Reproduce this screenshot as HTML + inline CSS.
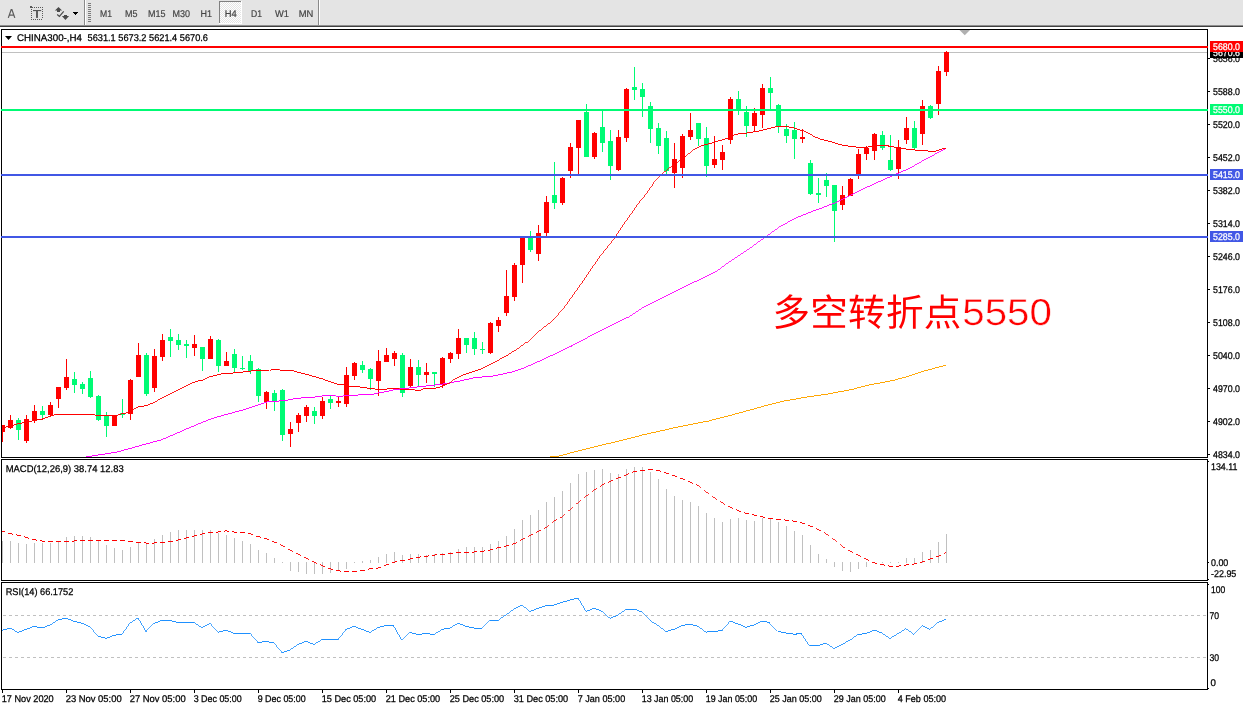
<!DOCTYPE html><html><head><meta charset="utf-8"><title>CHINA300 H4</title>
<style>html,body{margin:0;padding:0;background:#fff;}body{width:1243px;height:708px;overflow:hidden;}svg{display:block;position:absolute;left:0;top:0;will-change:transform;text-rendering:geometricPrecision;}text{font-family:"Liberation Sans",sans-serif;}</style></head><body>
<svg width="1243" height="708" viewBox="0 0 1243 708">
<defs><clipPath id="cm"><rect x="1" y="30" width="1207" height="427"/></clipPath><pattern id="dith" width="2" height="2" patternUnits="userSpaceOnUse"><rect width="2" height="2" fill="#fff"/><rect width="1" height="1" fill="#e4e4e4"/><rect x="1" y="1" width="1" height="1" fill="#e4e4e4"/></pattern></defs>
<rect x="0" y="0" width="1243" height="708" fill="#fff"/>
<g shape-rendering="crispEdges">
<rect x="0" y="0" width="1243" height="25" fill="#e4e4e4"/>
<rect x="0" y="25" width="1243" height="1" fill="#8f8f8f"/>
<rect x="0" y="26" width="1243" height="1" fill="#404040"/>
<rect x="84" y="0" width="1" height="25" fill="#8a8a8a"/><rect x="85" y="0" width="1" height="25" fill="#fff"/>
<rect x="318" y="0" width="1" height="25" fill="#8a8a8a"/><rect x="319" y="0" width="1" height="25" fill="#fff"/>
<rect x="88" y="3" width="3" height="1" fill="#7a7a7a"/>
<rect x="88" y="5" width="3" height="1" fill="#7a7a7a"/>
<rect x="88" y="7" width="3" height="1" fill="#7a7a7a"/>
<rect x="88" y="9" width="3" height="1" fill="#7a7a7a"/>
<rect x="88" y="11" width="3" height="1" fill="#7a7a7a"/>
<rect x="88" y="13" width="3" height="1" fill="#7a7a7a"/>
<rect x="88" y="15" width="3" height="1" fill="#7a7a7a"/>
<rect x="88" y="17" width="3" height="1" fill="#7a7a7a"/>
<rect x="88" y="19" width="3" height="1" fill="#7a7a7a"/>
<rect x="88" y="21" width="3" height="1" fill="#7a7a7a"/>
<rect x="219" y="1" width="23" height="23" fill="url(#dith)"/>
<rect x="219" y="1" width="22" height="1" fill="#808080"/><rect x="219" y="1" width="1" height="22" fill="#808080"/>
<rect x="219" y="23" width="23" height="1" fill="#fff"/><rect x="241" y="1" width="1" height="23" fill="#fff"/>
</g>
<text x="100" y="17" font-size="9.8" fill="#444" stroke="#444" stroke-width="0.2" textLength="12" lengthAdjust="spacingAndGlyphs">M1</text>
<text x="125" y="17" font-size="9.8" fill="#444" stroke="#444" stroke-width="0.2" textLength="12.5" lengthAdjust="spacingAndGlyphs">M5</text>
<text x="148" y="17" font-size="9.8" fill="#444" stroke="#444" stroke-width="0.2" textLength="17.5" lengthAdjust="spacingAndGlyphs">M15</text>
<text x="172.5" y="17" font-size="9.8" fill="#444" stroke="#444" stroke-width="0.2" textLength="17.5" lengthAdjust="spacingAndGlyphs">M30</text>
<text x="200.5" y="17" font-size="9.8" fill="#444" stroke="#444" stroke-width="0.2" textLength="11.5" lengthAdjust="spacingAndGlyphs">H1</text>
<text x="224.7" y="17" font-size="9.8" fill="#444" stroke="#444" stroke-width="0.2" textLength="12" lengthAdjust="spacingAndGlyphs">H4</text>
<text x="251" y="17" font-size="9.8" fill="#444" stroke="#444" stroke-width="0.2" textLength="11" lengthAdjust="spacingAndGlyphs">D1</text>
<text x="275" y="17" font-size="9.8" fill="#444" stroke="#444" stroke-width="0.2" textLength="14" lengthAdjust="spacingAndGlyphs">W1</text>
<text x="298.7" y="17" font-size="9.8" fill="#444" stroke="#444" stroke-width="0.2" textLength="14.6" lengthAdjust="spacingAndGlyphs">MN</text>
<path d="M8.3 17.9 L11.2 9.6 L11.9 9.6 L14.800 17.9 M9.500 15 L13.600 15" fill="none" stroke="#5c5c5c" stroke-width="1.25" stroke-linejoin="miter"/>
<g shape-rendering="crispEdges" fill="#5a5a5a">
<rect x="30" y="6" width="2" height="2"/><rect x="32" y="7" width="1" height="1"/>
<rect x="34" y="7" width="1" height="1"/>
<rect x="36" y="7" width="1" height="1"/>
<rect x="38" y="7" width="1" height="1"/>
<rect x="40" y="7" width="1" height="1"/>
<rect x="42" y="7" width="1" height="1"/>
<rect x="31" y="19" width="1" height="1"/>
<rect x="33" y="19" width="1" height="1"/>
<rect x="35" y="19" width="1" height="1"/>
<rect x="37" y="19" width="1" height="1"/>
<rect x="39" y="19" width="1" height="1"/>
<rect x="41" y="19" width="1" height="1"/>
<rect x="31" y="9" width="1" height="1"/><rect x="42" y="9" width="1" height="1"/>
<rect x="31" y="11" width="1" height="1"/><rect x="42" y="11" width="1" height="1"/>
<rect x="31" y="13" width="1" height="1"/><rect x="42" y="13" width="1" height="1"/>
<rect x="31" y="15" width="1" height="1"/><rect x="42" y="15" width="1" height="1"/>
<rect x="31" y="17" width="1" height="1"/><rect x="42" y="17" width="1" height="1"/>
</g>
<rect x="33" y="10" width="8.2" height="1.1" fill="#555"/><rect x="36" y="11" width="2" height="6.900" fill="#5e5e5e"/>
<g fill="#4a4a4a"><path d="M58.5 6.900 L62.100 10.600 L60 10.600 L60 12 L57 12 L57 10.600 L54.900 10.600 Z"/><path d="M65.450 20 L69.100 16.100 L67 16.100 L67 15.100 L64 15.100 L64 16.100 L61.900 16.100 Z"/><path d="M57.200 14.500 L59.400 16.500 L63.700 11.300" fill="none" stroke="#4a4a4a" stroke-width="1.2"/></g>
<g shape-rendering="crispEdges" fill="#000"><rect x="73" y="12" width="5" height="1"/><rect x="74" y="13" width="3" height="1"/><rect x="75" y="14" width="1" height="1"/></g>
<g shape-rendering="crispEdges" fill="#000">
<rect x="1" y="29" width="1" height="429"/><rect x="1207" y="29" width="1" height="429"/>
<rect x="1" y="459" width="1" height="122"/><rect x="1207" y="459" width="1" height="122"/>
<rect x="1" y="582" width="1" height="108"/><rect x="1207" y="582" width="1" height="108"/>
<rect x="1" y="29" width="1207" height="1"/>
<rect x="1" y="457" width="1207" height="1"/>
<rect x="1" y="459" width="1207" height="1"/>
<rect x="1" y="580" width="1207" height="1"/>
<rect x="1" y="582" width="1207" height="1"/>
<rect x="1" y="689" width="1207" height="1"/>
</g>
<g clip-path="url(#cm)">
<g shape-rendering="crispEdges">
<rect x="2" y="52" width="1205" height="1" fill="#c0c0c0"/>
<rect x="2" y="425" width="1" height="17" fill="#ff0000"/>
<rect x="0" y="425" width="5" height="7" fill="#ff0000"/>
<rect x="10" y="415" width="1" height="14" fill="#ff0000"/>
<rect x="8" y="420" width="5" height="8" fill="#ff0000"/>
<rect x="18" y="418" width="1" height="22" fill="#00fb74"/>
<rect x="16" y="420" width="5" height="10" fill="#00fb74"/>
<rect x="26" y="415" width="1" height="28" fill="#ff0000"/>
<rect x="24" y="419" width="5" height="22" fill="#ff0000"/>
<rect x="34" y="405" width="1" height="18" fill="#ff0000"/>
<rect x="32" y="411" width="5" height="9" fill="#ff0000"/>
<rect x="42" y="406" width="1" height="12" fill="#00fb74"/>
<rect x="40" y="411" width="5" height="4" fill="#00fb74"/>
<rect x="50" y="402" width="1" height="14" fill="#ff0000"/>
<rect x="48" y="405" width="5" height="10" fill="#ff0000"/>
<rect x="58" y="387" width="1" height="21" fill="#ff0000"/>
<rect x="56" y="387" width="5" height="12" fill="#ff0000"/>
<rect x="66" y="359" width="1" height="31" fill="#ff0000"/>
<rect x="64" y="377" width="5" height="11" fill="#ff0000"/>
<rect x="74" y="372" width="1" height="21" fill="#00fb74"/>
<rect x="72" y="379" width="5" height="6" fill="#00fb74"/>
<rect x="82" y="382" width="1" height="12" fill="#00fb74"/>
<rect x="80" y="384" width="5" height="5" fill="#00fb74"/>
<rect x="90" y="371" width="1" height="27" fill="#00fb74"/>
<rect x="88" y="378" width="5" height="19" fill="#00fb74"/>
<rect x="98" y="395" width="1" height="26" fill="#00fb74"/>
<rect x="96" y="396" width="5" height="24" fill="#00fb74"/>
<rect x="106" y="412" width="1" height="25" fill="#00fb74"/>
<rect x="104" y="416" width="5" height="10" fill="#00fb74"/>
<rect x="114" y="416" width="1" height="10" fill="#ff0000"/>
<rect x="112" y="416" width="5" height="10" fill="#ff0000"/>
<rect x="122" y="399" width="1" height="19" fill="#00fb74"/>
<rect x="120" y="413" width="5" height="2" fill="#00fb74"/>
<rect x="130" y="379" width="1" height="41" fill="#ff0000"/>
<rect x="128" y="380" width="5" height="34" fill="#ff0000"/>
<rect x="138" y="343" width="1" height="34" fill="#ff0000"/>
<rect x="136" y="355" width="5" height="22" fill="#ff0000"/>
<rect x="146" y="353" width="1" height="43" fill="#00fb74"/>
<rect x="144" y="355" width="5" height="39" fill="#00fb74"/>
<rect x="154" y="349" width="1" height="43" fill="#ff0000"/>
<rect x="152" y="356" width="5" height="32" fill="#ff0000"/>
<rect x="162" y="334" width="1" height="27" fill="#ff0000"/>
<rect x="160" y="340" width="5" height="17" fill="#ff0000"/>
<rect x="170" y="329" width="1" height="28" fill="#00fb74"/>
<rect x="168" y="337" width="5" height="4" fill="#00fb74"/>
<rect x="178" y="334" width="1" height="16" fill="#00fb74"/>
<rect x="176" y="340" width="5" height="5" fill="#00fb74"/>
<rect x="186" y="340" width="1" height="18" fill="#00fb74"/>
<rect x="184" y="344" width="5" height="2" fill="#00fb74"/>
<rect x="194" y="335" width="1" height="21" fill="#ff0000"/>
<rect x="192" y="344" width="5" height="4" fill="#ff0000"/>
<rect x="202" y="347" width="1" height="24" fill="#00fb74"/>
<rect x="200" y="347" width="5" height="12" fill="#00fb74"/>
<rect x="210" y="336" width="1" height="23" fill="#ff0000"/>
<rect x="208" y="339" width="5" height="20" fill="#ff0000"/>
<rect x="218" y="339" width="1" height="33" fill="#00fb74"/>
<rect x="216" y="340" width="5" height="26" fill="#00fb74"/>
<rect x="226" y="352" width="1" height="14" fill="#ff0000"/>
<rect x="224" y="361" width="5" height="5" fill="#ff0000"/>
<rect x="234" y="349" width="1" height="24" fill="#00fb74"/>
<rect x="232" y="354" width="5" height="14" fill="#00fb74"/>
<rect x="242" y="356" width="1" height="14" fill="#00fb74"/>
<rect x="240" y="368" width="5" height="1" fill="#00fb74"/>
<rect x="250" y="355" width="1" height="19" fill="#00fb74"/>
<rect x="248" y="361" width="5" height="10" fill="#00fb74"/>
<rect x="258" y="368" width="1" height="34" fill="#00fb74"/>
<rect x="256" y="369" width="5" height="27" fill="#00fb74"/>
<rect x="266" y="391" width="1" height="18" fill="#ff0000"/>
<rect x="264" y="392" width="5" height="10" fill="#ff0000"/>
<rect x="274" y="390" width="1" height="21" fill="#00fb74"/>
<rect x="272" y="393" width="5" height="9" fill="#00fb74"/>
<rect x="282" y="389" width="1" height="52" fill="#00fb74"/>
<rect x="280" y="390" width="5" height="45" fill="#00fb74"/>
<rect x="290" y="422" width="1" height="25" fill="#ff0000"/>
<rect x="288" y="429" width="5" height="5" fill="#ff0000"/>
<rect x="298" y="413" width="1" height="19" fill="#ff0000"/>
<rect x="296" y="415" width="5" height="8" fill="#ff0000"/>
<rect x="306" y="405" width="1" height="17" fill="#ff0000"/>
<rect x="304" y="407" width="5" height="9" fill="#ff0000"/>
<rect x="314" y="407" width="1" height="17" fill="#00fb74"/>
<rect x="312" y="411" width="5" height="5" fill="#00fb74"/>
<rect x="322" y="397" width="1" height="22" fill="#ff0000"/>
<rect x="320" y="401" width="5" height="15" fill="#ff0000"/>
<rect x="330" y="396" width="1" height="13" fill="#00fb74"/>
<rect x="328" y="399" width="5" height="4" fill="#00fb74"/>
<rect x="338" y="397" width="1" height="10" fill="#ff0000"/>
<rect x="336" y="401" width="5" height="2" fill="#ff0000"/>
<rect x="346" y="367" width="1" height="40" fill="#ff0000"/>
<rect x="344" y="375" width="5" height="29" fill="#ff0000"/>
<rect x="354" y="362" width="1" height="18" fill="#ff0000"/>
<rect x="352" y="363" width="5" height="13" fill="#ff0000"/>
<rect x="362" y="361" width="1" height="12" fill="#00fb74"/>
<rect x="360" y="365" width="5" height="5" fill="#00fb74"/>
<rect x="370" y="368" width="1" height="22" fill="#00fb74"/>
<rect x="368" y="369" width="5" height="10" fill="#00fb74"/>
<rect x="378" y="350" width="1" height="46" fill="#ff0000"/>
<rect x="376" y="361" width="5" height="20" fill="#ff0000"/>
<rect x="386" y="348" width="1" height="14" fill="#ff0000"/>
<rect x="384" y="355" width="5" height="7" fill="#ff0000"/>
<rect x="394" y="351" width="1" height="15" fill="#ff0000"/>
<rect x="392" y="353" width="5" height="6" fill="#ff0000"/>
<rect x="402" y="353" width="1" height="44" fill="#00fb74"/>
<rect x="400" y="355" width="5" height="38" fill="#00fb74"/>
<rect x="410" y="359" width="1" height="29" fill="#ff0000"/>
<rect x="408" y="367" width="5" height="19" fill="#ff0000"/>
<rect x="418" y="360" width="1" height="27" fill="#00fb74"/>
<rect x="416" y="367" width="5" height="8" fill="#00fb74"/>
<rect x="426" y="363" width="1" height="20" fill="#ff0000"/>
<rect x="424" y="372" width="5" height="3" fill="#ff0000"/>
<rect x="434" y="372" width="1" height="15" fill="#00fb74"/>
<rect x="432" y="372" width="5" height="2" fill="#00fb74"/>
<rect x="442" y="357" width="1" height="31" fill="#ff0000"/>
<rect x="440" y="358" width="5" height="27" fill="#ff0000"/>
<rect x="450" y="352" width="1" height="11" fill="#ff0000"/>
<rect x="448" y="353" width="5" height="6" fill="#ff0000"/>
<rect x="458" y="329" width="1" height="30" fill="#ff0000"/>
<rect x="456" y="338" width="5" height="16" fill="#ff0000"/>
<rect x="466" y="338" width="1" height="15" fill="#00fb74"/>
<rect x="464" y="338" width="5" height="7" fill="#00fb74"/>
<rect x="474" y="332" width="1" height="23" fill="#00fb74"/>
<rect x="472" y="338" width="5" height="11" fill="#00fb74"/>
<rect x="482" y="342" width="1" height="12" fill="#00fb74"/>
<rect x="480" y="349" width="5" height="1" fill="#00fb74"/>
<rect x="490" y="322" width="1" height="32" fill="#ff0000"/>
<rect x="488" y="323" width="5" height="30" fill="#ff0000"/>
<rect x="498" y="317" width="1" height="15" fill="#ff0000"/>
<rect x="496" y="320" width="5" height="6" fill="#ff0000"/>
<rect x="506" y="270" width="1" height="46" fill="#ff0000"/>
<rect x="504" y="296" width="5" height="17" fill="#ff0000"/>
<rect x="514" y="263" width="1" height="38" fill="#ff0000"/>
<rect x="512" y="265" width="5" height="32" fill="#ff0000"/>
<rect x="522" y="236" width="1" height="47" fill="#ff0000"/>
<rect x="520" y="236" width="5" height="29" fill="#ff0000"/>
<rect x="530" y="231" width="1" height="21" fill="#00fb74"/>
<rect x="528" y="237" width="5" height="13" fill="#00fb74"/>
<rect x="538" y="225" width="1" height="36" fill="#ff0000"/>
<rect x="536" y="233" width="5" height="21" fill="#ff0000"/>
<rect x="546" y="196" width="1" height="40" fill="#ff0000"/>
<rect x="544" y="202" width="5" height="31" fill="#ff0000"/>
<rect x="554" y="162" width="1" height="47" fill="#00fb74"/>
<rect x="552" y="195" width="5" height="8" fill="#00fb74"/>
<rect x="562" y="177" width="1" height="28" fill="#ff0000"/>
<rect x="560" y="178" width="5" height="25" fill="#ff0000"/>
<rect x="570" y="143" width="1" height="35" fill="#ff0000"/>
<rect x="568" y="147" width="5" height="24" fill="#ff0000"/>
<rect x="578" y="120" width="1" height="54" fill="#ff0000"/>
<rect x="576" y="120" width="5" height="28" fill="#ff0000"/>
<rect x="586" y="104" width="1" height="53" fill="#00fb74"/>
<rect x="584" y="112" width="5" height="45" fill="#00fb74"/>
<rect x="594" y="132" width="1" height="27" fill="#ff0000"/>
<rect x="592" y="133" width="5" height="24" fill="#ff0000"/>
<rect x="602" y="111" width="1" height="41" fill="#00fb74"/>
<rect x="600" y="127" width="5" height="16" fill="#00fb74"/>
<rect x="610" y="130" width="1" height="50" fill="#00fb74"/>
<rect x="608" y="141" width="5" height="25" fill="#00fb74"/>
<rect x="618" y="130" width="1" height="41" fill="#ff0000"/>
<rect x="616" y="137" width="5" height="33" fill="#ff0000"/>
<rect x="626" y="88" width="1" height="54" fill="#ff0000"/>
<rect x="624" y="89" width="5" height="49" fill="#ff0000"/>
<rect x="634" y="67" width="1" height="33" fill="#00fb74"/>
<rect x="632" y="87" width="5" height="3" fill="#00fb74"/>
<rect x="642" y="83" width="1" height="34" fill="#00fb74"/>
<rect x="640" y="89" width="5" height="8" fill="#00fb74"/>
<rect x="650" y="102" width="1" height="41" fill="#00fb74"/>
<rect x="648" y="106" width="5" height="23" fill="#00fb74"/>
<rect x="658" y="123" width="1" height="31" fill="#00fb74"/>
<rect x="656" y="128" width="5" height="18" fill="#00fb74"/>
<rect x="666" y="131" width="1" height="43" fill="#00fb74"/>
<rect x="664" y="138" width="5" height="33" fill="#00fb74"/>
<rect x="674" y="143" width="1" height="45" fill="#ff0000"/>
<rect x="672" y="159" width="5" height="14" fill="#ff0000"/>
<rect x="682" y="134" width="1" height="44" fill="#ff0000"/>
<rect x="680" y="136" width="5" height="32" fill="#ff0000"/>
<rect x="690" y="113" width="1" height="27" fill="#ff0000"/>
<rect x="688" y="130" width="5" height="7" fill="#ff0000"/>
<rect x="698" y="123" width="1" height="23" fill="#00fb74"/>
<rect x="696" y="123" width="5" height="16" fill="#00fb74"/>
<rect x="706" y="127" width="1" height="50" fill="#00fb74"/>
<rect x="704" y="138" width="5" height="28" fill="#00fb74"/>
<rect x="714" y="136" width="1" height="32" fill="#ff0000"/>
<rect x="712" y="159" width="5" height="6" fill="#ff0000"/>
<rect x="722" y="145" width="1" height="25" fill="#ff0000"/>
<rect x="720" y="152" width="5" height="8" fill="#ff0000"/>
<rect x="730" y="97" width="1" height="47" fill="#ff0000"/>
<rect x="728" y="99" width="5" height="41" fill="#ff0000"/>
<rect x="738" y="91" width="1" height="24" fill="#00fb74"/>
<rect x="736" y="99" width="5" height="11" fill="#00fb74"/>
<rect x="746" y="106" width="1" height="31" fill="#00fb74"/>
<rect x="744" y="112" width="5" height="14" fill="#00fb74"/>
<rect x="754" y="108" width="1" height="23" fill="#ff0000"/>
<rect x="752" y="113" width="5" height="13" fill="#ff0000"/>
<rect x="762" y="84" width="1" height="44" fill="#ff0000"/>
<rect x="760" y="88" width="5" height="27" fill="#ff0000"/>
<rect x="770" y="77" width="1" height="32" fill="#00fb74"/>
<rect x="768" y="88" width="5" height="5" fill="#00fb74"/>
<rect x="778" y="104" width="1" height="29" fill="#00fb74"/>
<rect x="776" y="105" width="5" height="21" fill="#00fb74"/>
<rect x="786" y="124" width="1" height="19" fill="#00fb74"/>
<rect x="784" y="129" width="5" height="7" fill="#00fb74"/>
<rect x="794" y="122" width="1" height="37" fill="#00fb74"/>
<rect x="792" y="130" width="5" height="9" fill="#00fb74"/>
<rect x="802" y="129" width="1" height="14" fill="#ff0000"/>
<rect x="800" y="137" width="5" height="2" fill="#ff0000"/>
<rect x="810" y="160" width="1" height="35" fill="#00fb74"/>
<rect x="808" y="163" width="5" height="31" fill="#00fb74"/>
<rect x="818" y="178" width="1" height="25" fill="#00fb74"/>
<rect x="816" y="193" width="5" height="2" fill="#00fb74"/>
<rect x="826" y="173" width="1" height="24" fill="#00fb74"/>
<rect x="824" y="180" width="5" height="6" fill="#00fb74"/>
<rect x="834" y="185" width="1" height="57" fill="#00fb74"/>
<rect x="832" y="185" width="5" height="26" fill="#00fb74"/>
<rect x="842" y="186" width="1" height="24" fill="#ff0000"/>
<rect x="840" y="195" width="5" height="10" fill="#ff0000"/>
<rect x="850" y="178" width="1" height="18" fill="#ff0000"/>
<rect x="848" y="179" width="5" height="17" fill="#ff0000"/>
<rect x="858" y="149" width="1" height="30" fill="#ff0000"/>
<rect x="856" y="154" width="5" height="20" fill="#ff0000"/>
<rect x="866" y="146" width="1" height="14" fill="#ff0000"/>
<rect x="864" y="148" width="5" height="6" fill="#ff0000"/>
<rect x="874" y="133" width="1" height="27" fill="#ff0000"/>
<rect x="872" y="134" width="5" height="17" fill="#ff0000"/>
<rect x="882" y="131" width="1" height="19" fill="#00fb74"/>
<rect x="880" y="135" width="5" height="13" fill="#00fb74"/>
<rect x="890" y="135" width="1" height="36" fill="#00fb74"/>
<rect x="888" y="160" width="5" height="10" fill="#00fb74"/>
<rect x="898" y="140" width="1" height="39" fill="#ff0000"/>
<rect x="896" y="147" width="5" height="22" fill="#ff0000"/>
<rect x="906" y="117" width="1" height="27" fill="#ff0000"/>
<rect x="904" y="128" width="5" height="12" fill="#ff0000"/>
<rect x="914" y="121" width="1" height="29" fill="#00fb74"/>
<rect x="912" y="128" width="5" height="20" fill="#00fb74"/>
<rect x="922" y="100" width="1" height="45" fill="#ff0000"/>
<rect x="920" y="106" width="5" height="28" fill="#ff0000"/>
<rect x="930" y="105" width="1" height="14" fill="#00fb74"/>
<rect x="928" y="106" width="5" height="12" fill="#00fb74"/>
<rect x="938" y="66" width="1" height="49" fill="#ff0000"/>
<rect x="936" y="71" width="5" height="33" fill="#ff0000"/>
<rect x="946" y="51" width="1" height="25" fill="#ff0000"/>
<rect x="944" y="52" width="5" height="20" fill="#ff0000"/>
</g>
<g shape-rendering="crispEdges">
<g stroke="#ffa500" fill="none" stroke-linecap="butt" ><line x1="549.9" y1="457.0" x2="557.8" y2="456.4" stroke-width="1.00"/><line x1="557.6" y1="456.4" x2="573.9" y2="452.1" stroke-width="0.97"/><line x1="573.7" y1="452.1" x2="607.7" y2="443.7" stroke-width="0.97"/><line x1="607.5" y1="443.7" x2="641.5" y2="435.2" stroke-width="0.97"/><line x1="641.3" y1="435.2" x2="675.3" y2="427.6" stroke-width="0.98"/><line x1="675.1" y1="427.6" x2="709.1" y2="420.9" stroke-width="0.98"/><line x1="708.9" y1="420.9" x2="740.1" y2="412.8" stroke-width="0.97"/><line x1="739.9" y1="412.8" x2="765.4" y2="405.7" stroke-width="0.96"/><line x1="765.2" y1="405.7" x2="785.7" y2="400.6" stroke-width="0.97"/><line x1="785.5" y1="400.6" x2="807.7" y2="396.7" stroke-width="0.98"/><line x1="807.5" y1="396.7" x2="828.0" y2="393.9" stroke-width="0.99"/><line x1="827.8" y1="393.9" x2="851.6" y2="389.6" stroke-width="0.98"/><line x1="851.4" y1="389.6" x2="868.5" y2="385.1" stroke-width="0.97"/><line x1="868.3" y1="385.1" x2="892.2" y2="380.7" stroke-width="0.98"/><line x1="892.0" y1="380.7" x2="909.0" y2="376.1" stroke-width="0.96"/><line x1="908.8" y1="376.1" x2="925.9" y2="370.5" stroke-width="0.95"/><line x1="925.7" y1="370.5" x2="946.1" y2="365.3" stroke-width="0.97"/></g>
<g stroke="#ff00ff" fill="none" stroke-linecap="butt" ><line x1="85.9" y1="457.0" x2="117.6" y2="451.9" stroke-width="0.99"/><line x1="117.4" y1="451.9" x2="162.1" y2="439.6" stroke-width="0.96"/><line x1="161.9" y1="439.7" x2="187.9" y2="428.4" stroke-width="0.92"/><line x1="187.7" y1="428.6" x2="200.1" y2="423.1" stroke-width="0.92"/><line x1="199.9" y1="423.3" x2="215.1" y2="417.4" stroke-width="0.93"/><line x1="214.9" y1="417.5" x2="244.5" y2="409.6" stroke-width="0.97"/><line x1="244.3" y1="409.6" x2="262.5" y2="403.6" stroke-width="0.95"/><line x1="262.3" y1="403.7" x2="267.3" y2="401.7" stroke-width="0.94"/><line x1="267.1" y1="401.8" x2="285.1" y2="400.6" stroke-width="1.00"/><line x1="284.9" y1="400.6" x2="293.1" y2="398.9" stroke-width="0.98"/><line x1="292.9" y1="398.9" x2="302.5" y2="397.9" stroke-width="0.99"/><line x1="302.3" y1="397.9" x2="318.0" y2="396.8" stroke-width="1.00"/><line x1="317.8" y1="396.8" x2="326.7" y2="395.2" stroke-width="0.98"/><line x1="326.5" y1="395.2" x2="335.4" y2="395.2" stroke-width="1.00"/><line x1="335.2" y1="395.1" x2="336.7" y2="396.4" stroke-width="0.76"/><line x1="336.5" y1="396.3" x2="342.8" y2="396.3" stroke-width="1.00"/><line x1="342.6" y1="396.4" x2="344.1" y2="395.1" stroke-width="0.76"/><line x1="343.9" y1="395.2" x2="357.5" y2="395.2" stroke-width="1.00"/><line x1="357.3" y1="395.3" x2="358.9" y2="394.2" stroke-width="0.84"/><line x1="358.7" y1="394.3" x2="373.5" y2="394.3" stroke-width="1.00"/><line x1="373.3" y1="394.3" x2="378.3" y2="392.9" stroke-width="0.96"/><line x1="378.1" y1="392.9" x2="387.9" y2="391.4" stroke-width="0.99"/><line x1="387.7" y1="391.4" x2="395.1" y2="389.6" stroke-width="0.97"/><line x1="394.9" y1="389.6" x2="405.9" y2="388.4" stroke-width="0.99"/><line x1="405.7" y1="388.4" x2="420.3" y2="386.6" stroke-width="0.99"/><line x1="420.1" y1="386.6" x2="432.3" y2="385.4" stroke-width="1.00"/><line x1="432.1" y1="385.4" x2="439.5" y2="384.5" stroke-width="0.99"/><line x1="439.3" y1="384.5" x2="449.1" y2="383.0" stroke-width="0.99"/><line x1="448.9" y1="383.0" x2="455.1" y2="381.8" stroke-width="0.98"/><line x1="454.9" y1="381.8" x2="457.1" y2="381.6" stroke-width="1.00"/><line x1="456.9" y1="381.6" x2="475.1" y2="377.6" stroke-width="0.98"/><line x1="474.9" y1="377.6" x2="493.1" y2="376.0" stroke-width="1.00"/><line x1="492.9" y1="376.0" x2="512.3" y2="372.0" stroke-width="0.98"/><line x1="512.1" y1="372.0" x2="523.1" y2="368.4" stroke-width="0.95"/><line x1="522.9" y1="368.5" x2="535.1" y2="362.9" stroke-width="0.91"/><line x1="534.9" y1="363.1" x2="543.4" y2="359.3" stroke-width="0.92"/><line x1="543.2" y1="359.5" x2="571.6" y2="345.9" stroke-width="0.90"/><line x1="571.4" y1="346.1" x2="590.1" y2="336.1" stroke-width="0.88"/><line x1="589.9" y1="336.3" x2="611.3" y2="325.5" stroke-width="0.89"/><line x1="611.1" y1="325.7" x2="628.3" y2="317.1" stroke-width="0.90"/><line x1="628.1" y1="317.3" x2="643.1" y2="307.5" stroke-width="0.84"/><line x1="642.9" y1="307.7" x2="664.3" y2="296.9" stroke-width="0.89"/><line x1="664.1" y1="297.1" x2="691.8" y2="283.2" stroke-width="0.90"/><line x1="691.6" y1="283.4" x2="715.1" y2="272.1" stroke-width="0.90"/><line x1="714.9" y1="272.3" x2="727.9" y2="263.0" stroke-width="0.82"/><line x1="727.7" y1="263.2" x2="746.9" y2="250.3" stroke-width="0.83"/><line x1="746.7" y1="250.5" x2="766.0" y2="236.5" stroke-width="0.81"/><line x1="765.8" y1="236.7" x2="780.9" y2="225.9" stroke-width="0.81"/><line x1="780.7" y1="226.1" x2="797.8" y2="217.0" stroke-width="0.88"/><line x1="797.6" y1="217.2" x2="817.1" y2="209.6" stroke-width="0.93"/><line x1="816.9" y1="209.8" x2="834.1" y2="203.1" stroke-width="0.93"/><line x1="833.9" y1="203.3" x2="850.9" y2="195.2" stroke-width="0.90"/><line x1="850.7" y1="195.4" x2="867.9" y2="186.7" stroke-width="0.89"/><line x1="867.7" y1="186.9" x2="884.8" y2="179.1" stroke-width="0.91"/><line x1="884.6" y1="179.3" x2="898.4" y2="173.1" stroke-width="0.91"/><line x1="898.2" y1="173.3" x2="910.1" y2="168.0" stroke-width="0.92"/><line x1="909.9" y1="168.2" x2="925.1" y2="159.4" stroke-width="0.87"/><line x1="924.9" y1="159.6" x2="946.1" y2="148.4" stroke-width="0.89"/></g>
<g stroke="#ff0000" fill="none" stroke-linecap="butt" ><line x1="1.9" y1="428.3" x2="17.1" y2="424.0" stroke-width="0.96"/><line x1="16.9" y1="424.0" x2="34.1" y2="420.7" stroke-width="0.98"/><line x1="33.9" y1="420.7" x2="42.5" y2="419.0" stroke-width="0.98"/><line x1="42.3" y1="419.0" x2="56.1" y2="414.3" stroke-width="0.95"/><line x1="55.9" y1="414.3" x2="94.2" y2="414.3" stroke-width="1.00"/><line x1="93.9" y1="414.2" x2="96.6" y2="415.7" stroke-width="0.89"/><line x1="96.3" y1="415.6" x2="117.2" y2="415.6" stroke-width="1.00"/><line x1="116.9" y1="415.7" x2="119.6" y2="414.2" stroke-width="0.89"/><line x1="119.4" y1="414.3" x2="126.1" y2="413.0" stroke-width="0.98"/><line x1="125.9" y1="413.1" x2="130.1" y2="411.2" stroke-width="0.92"/><line x1="129.9" y1="411.4" x2="137.1" y2="407.2" stroke-width="0.87"/><line x1="136.9" y1="407.3" x2="147.1" y2="405.3" stroke-width="0.98"/><line x1="146.9" y1="405.4" x2="154.1" y2="402.4" stroke-width="0.93"/><line x1="153.9" y1="402.6" x2="159.1" y2="399.6" stroke-width="0.87"/><line x1="158.9" y1="399.8" x2="176.1" y2="391.1" stroke-width="0.89"/><line x1="175.9" y1="391.3" x2="192.9" y2="382.6" stroke-width="0.89"/><line x1="192.7" y1="382.7" x2="199.3" y2="380.6" stroke-width="0.95"/><line x1="199.1" y1="380.6" x2="203.1" y2="380.2" stroke-width="0.99"/><line x1="202.9" y1="380.3" x2="209.7" y2="376.5" stroke-width="0.88"/><line x1="209.5" y1="376.6" x2="215.7" y2="375.2" stroke-width="0.97"/><line x1="215.5" y1="375.2" x2="222.9" y2="373.4" stroke-width="0.97"/><line x1="222.7" y1="373.4" x2="238.5" y2="372.8" stroke-width="1.00"/><line x1="238.3" y1="372.8" x2="248.1" y2="371.2" stroke-width="0.99"/><line x1="247.9" y1="371.2" x2="256.5" y2="370.6" stroke-width="1.00"/><line x1="256.3" y1="370.6" x2="269.7" y2="370.0" stroke-width="1.00"/><line x1="269.5" y1="370.1" x2="270.9" y2="369.3" stroke-width="0.89"/><line x1="270.7" y1="369.4" x2="278.8" y2="369.4" stroke-width="1.00"/><line x1="278.5" y1="369.3" x2="279.9" y2="370.5" stroke-width="0.77"/><line x1="279.7" y1="370.4" x2="292.5" y2="370.4" stroke-width="1.00"/><line x1="292.3" y1="370.3" x2="294.5" y2="371.5" stroke-width="0.89"/><line x1="294.3" y1="371.4" x2="309.2" y2="375.1" stroke-width="0.97"/><line x1="309.0" y1="375.1" x2="321.3" y2="378.5" stroke-width="0.96"/><line x1="321.1" y1="378.4" x2="329.4" y2="381.5" stroke-width="0.94"/><line x1="329.2" y1="381.4" x2="337.4" y2="384.2" stroke-width="0.94"/><line x1="337.2" y1="384.2" x2="343.4" y2="384.8" stroke-width="1.00"/><line x1="343.2" y1="384.8" x2="349.5" y2="386.1" stroke-width="0.98"/><line x1="349.3" y1="386.1" x2="358.9" y2="386.8" stroke-width="1.00"/><line x1="358.7" y1="386.8" x2="365.6" y2="387.9" stroke-width="0.99"/><line x1="365.4" y1="387.9" x2="374.1" y2="388.4" stroke-width="1.00"/><line x1="373.9" y1="388.3" x2="375.9" y2="389.5" stroke-width="0.87"/><line x1="375.7" y1="389.4" x2="385.5" y2="389.4" stroke-width="1.00"/><line x1="385.3" y1="389.4" x2="390.9" y2="388.4" stroke-width="0.98"/><line x1="390.7" y1="388.4" x2="398.8" y2="388.4" stroke-width="1.00"/><line x1="398.5" y1="388.3" x2="399.9" y2="389.5" stroke-width="0.77"/><line x1="399.7" y1="389.4" x2="414.3" y2="389.4" stroke-width="1.00"/><line x1="414.1" y1="389.3" x2="415.5" y2="390.7" stroke-width="0.71"/><line x1="415.2" y1="390.6" x2="419.1" y2="390.6" stroke-width="1.00"/><line x1="418.9" y1="390.7" x2="423.9" y2="388.6" stroke-width="0.93"/><line x1="423.7" y1="388.7" x2="434.7" y2="388.2" stroke-width="1.00"/><line x1="434.5" y1="388.2" x2="441.9" y2="386.0" stroke-width="0.96"/><line x1="441.7" y1="386.1" x2="449.1" y2="383.3" stroke-width="0.94"/><line x1="448.9" y1="383.5" x2="455.1" y2="378.7" stroke-width="0.79"/><line x1="454.9" y1="378.9" x2="463.1" y2="374.9" stroke-width="0.90"/><line x1="462.9" y1="375.0" x2="481.1" y2="369.0" stroke-width="0.95"/><line x1="480.9" y1="369.1" x2="493.1" y2="362.9" stroke-width="0.89"/><line x1="492.9" y1="363.1" x2="507.5" y2="355.1" stroke-width="0.88"/><line x1="507.3" y1="355.3" x2="517.1" y2="349.1" stroke-width="0.85"/><line x1="516.9" y1="349.3" x2="526.7" y2="341.9" stroke-width="0.80"/><line x1="526.5" y1="342.1" x2="535.1" y2="334.3" stroke-width="0.74"/><line x1="534.9" y1="334.5" x2="553.5" y2="319.9" stroke-width="0.79"/><line x1="553.3" y1="320.1" x2="566.1" y2="305.1" stroke-width="0.76"/><line x1="565.9" y1="305.3" x2="582.9" y2="281.3" stroke-width="0.82"/><line x1="582.7" y1="281.5" x2="600.1" y2="256.1" stroke-width="0.83"/><line x1="599.9" y1="256.3" x2="605.8" y2="249.3" stroke-width="0.77"/><line x1="605.6" y1="249.5" x2="615.6" y2="236.6" stroke-width="0.79"/><line x1="615.4" y1="236.8" x2="624.8" y2="222.8" stroke-width="0.83"/><line x1="624.6" y1="223.0" x2="641.1" y2="199.7" stroke-width="0.82"/><line x1="640.9" y1="199.9" x2="653.6" y2="182.5" stroke-width="0.81"/><line x1="653.4" y1="182.7" x2="661.8" y2="174.0" stroke-width="0.72"/><line x1="661.6" y1="174.2" x2="670.3" y2="167.2" stroke-width="0.78"/><line x1="670.1" y1="167.4" x2="685.5" y2="156.2" stroke-width="0.81"/><line x1="685.3" y1="156.4" x2="694.0" y2="149.4" stroke-width="0.78"/><line x1="693.8" y1="149.6" x2="702.5" y2="145.2" stroke-width="0.90"/><line x1="702.3" y1="145.3" x2="714.3" y2="142.4" stroke-width="0.97"/><line x1="714.1" y1="142.4" x2="727.9" y2="138.0" stroke-width="0.95"/><line x1="727.7" y1="138.1" x2="736.4" y2="134.1" stroke-width="0.91"/><line x1="736.2" y1="134.2" x2="748.2" y2="132.9" stroke-width="0.99"/><line x1="748.0" y1="132.9" x2="760.1" y2="130.8" stroke-width="0.98"/><line x1="759.9" y1="130.8" x2="777.1" y2="126.4" stroke-width="0.97"/><line x1="776.9" y1="126.4" x2="786.1" y2="126.4" stroke-width="1.00"/><line x1="785.9" y1="126.4" x2="795.4" y2="128.4" stroke-width="0.98"/><line x1="795.2" y1="128.4" x2="802.7" y2="130.7" stroke-width="0.95"/><line x1="802.5" y1="130.6" x2="811.9" y2="135.6" stroke-width="0.89"/><line x1="811.7" y1="135.4" x2="821.1" y2="139.5" stroke-width="0.92"/><line x1="820.9" y1="139.4" x2="830.1" y2="141.5" stroke-width="0.97"/><line x1="829.9" y1="141.5" x2="842.5" y2="145.3" stroke-width="0.96"/><line x1="842.3" y1="145.3" x2="859.4" y2="147.5" stroke-width="0.99"/><line x1="859.2" y1="147.5" x2="867.9" y2="147.0" stroke-width="1.00"/><line x1="867.7" y1="147.0" x2="877.1" y2="146.0" stroke-width="0.99"/><line x1="876.9" y1="146.0" x2="882.1" y2="145.5" stroke-width="1.00"/><line x1="881.9" y1="145.5" x2="888.5" y2="146.0" stroke-width="1.00"/><line x1="888.3" y1="146.0" x2="897.1" y2="147.5" stroke-width="0.99"/><line x1="896.9" y1="147.5" x2="910.6" y2="149.7" stroke-width="0.99"/><line x1="910.4" y1="149.7" x2="927.9" y2="151.0" stroke-width="1.00"/><line x1="927.6" y1="151.0" x2="934.8" y2="151.0" stroke-width="1.00"/><line x1="934.5" y1="151.0" x2="946.1" y2="147.6" stroke-width="0.96"/></g>
</g>
<g shape-rendering="crispEdges">
<rect x="1" y="29" width="1" height="429" fill="#000"/><rect x="1207" y="29" width="1" height="429" fill="#000"/>
<rect x="1" y="46" width="1207" height="2" fill="#ff0000"/>
<rect x="1" y="109" width="1207" height="2" fill="#00fb74"/>
<rect x="1" y="174" width="1207" height="2" fill="#4157e5"/>
<rect x="1" y="236" width="1207" height="2" fill="#4157e5"/>
</g>
</g>
<path d="M959.5 30 L970 30 L964.750 35.300 Z" fill="#b0b0b0"/>
<path d="M5 36 L12 36 L8.500 40 Z" fill="#000"/>
<text x="17" y="41" font-size="9.7" fill="#000" stroke="#000" stroke-width="0.25" textLength="65" lengthAdjust="spacingAndGlyphs">CHINA300-,H4</text>
<text x="87.5" y="41" font-size="9.7" fill="#000" stroke="#000" stroke-width="0.25" textLength="120.5" lengthAdjust="spacingAndGlyphs">5631.1 5673.2 5621.4 5670.6</text>
<g shape-rendering="crispEdges" fill="#000">
<rect x="1208" y="58" width="2" height="1"/>
<rect x="1208" y="91" width="2" height="1"/>
<rect x="1208" y="124" width="2" height="1"/>
<rect x="1208" y="157" width="2" height="1"/>
<rect x="1208" y="190" width="2" height="1"/>
<rect x="1208" y="223" width="2" height="1"/>
<rect x="1208" y="256" width="2" height="1"/>
<rect x="1208" y="289" width="2" height="1"/>
<rect x="1208" y="322" width="2" height="1"/>
<rect x="1208" y="355" width="2" height="1"/>
<rect x="1208" y="388" width="2" height="1"/>
<rect x="1208" y="421" width="2" height="1"/>
<rect x="1208" y="454" width="2" height="1"/>
</g>
<text x="1213" y="62" font-size="9.7" fill="#000" stroke="#000" stroke-width="0.25" textLength="27" lengthAdjust="spacingAndGlyphs">5656.0</text>
<text x="1213" y="95" font-size="9.7" fill="#000" stroke="#000" stroke-width="0.25" textLength="27" lengthAdjust="spacingAndGlyphs">5588.0</text>
<text x="1213" y="128" font-size="9.7" fill="#000" stroke="#000" stroke-width="0.25" textLength="27" lengthAdjust="spacingAndGlyphs">5520.0</text>
<text x="1213" y="161" font-size="9.7" fill="#000" stroke="#000" stroke-width="0.25" textLength="27" lengthAdjust="spacingAndGlyphs">5452.0</text>
<text x="1213" y="194" font-size="9.7" fill="#000" stroke="#000" stroke-width="0.25" textLength="27" lengthAdjust="spacingAndGlyphs">5382.0</text>
<text x="1213" y="227" font-size="9.7" fill="#000" stroke="#000" stroke-width="0.25" textLength="27" lengthAdjust="spacingAndGlyphs">5314.0</text>
<text x="1213" y="260" font-size="9.7" fill="#000" stroke="#000" stroke-width="0.25" textLength="27" lengthAdjust="spacingAndGlyphs">5246.0</text>
<text x="1213" y="293" font-size="9.7" fill="#000" stroke="#000" stroke-width="0.25" textLength="27" lengthAdjust="spacingAndGlyphs">5176.0</text>
<text x="1213" y="326" font-size="9.7" fill="#000" stroke="#000" stroke-width="0.25" textLength="27" lengthAdjust="spacingAndGlyphs">5108.0</text>
<text x="1213" y="359" font-size="9.7" fill="#000" stroke="#000" stroke-width="0.25" textLength="27" lengthAdjust="spacingAndGlyphs">5040.0</text>
<text x="1213" y="392" font-size="9.7" fill="#000" stroke="#000" stroke-width="0.25" textLength="27" lengthAdjust="spacingAndGlyphs">4970.0</text>
<text x="1213" y="425" font-size="9.7" fill="#000" stroke="#000" stroke-width="0.25" textLength="27" lengthAdjust="spacingAndGlyphs">4902.0</text>
<text x="1213" y="458" font-size="9.7" fill="#000" stroke="#000" stroke-width="0.25" textLength="27" lengthAdjust="spacingAndGlyphs">4834.0</text>
<rect x="1210" y="47" width="33" height="11" fill="#000" shape-rendering="crispEdges"/>
<text x="1213" y="56" font-size="9.7" fill="#fff" stroke="#fff" stroke-width="0.25" textLength="27" lengthAdjust="spacingAndGlyphs">5670.6</text>
<rect x="1210" y="41" width="33" height="11" fill="#ff0000" shape-rendering="crispEdges"/>
<text x="1213" y="50" font-size="9.7" fill="#fff" stroke="#fff" stroke-width="0.25" textLength="27" lengthAdjust="spacingAndGlyphs">5680.0</text>
<rect x="1210" y="104" width="33" height="11" fill="#00fb74" shape-rendering="crispEdges"/>
<text x="1213" y="113" font-size="9.7" fill="#fff" stroke="#fff" stroke-width="0.25" textLength="27" lengthAdjust="spacingAndGlyphs">5550.0</text>
<rect x="1210" y="169" width="33" height="11" fill="#4157e5" shape-rendering="crispEdges"/>
<text x="1213" y="178" font-size="9.7" fill="#fff" stroke="#fff" stroke-width="0.25" textLength="27" lengthAdjust="spacingAndGlyphs">5415.0</text>
<rect x="1210" y="231" width="33" height="11" fill="#4157e5" shape-rendering="crispEdges"/>
<text x="1213" y="240" font-size="9.7" fill="#fff" stroke="#fff" stroke-width="0.25" textLength="27" lengthAdjust="spacingAndGlyphs">5285.0</text>
<text x="772.5 810.3 848.1 885.9 923.7" y="326.4" font-size="37.6" fill="#ff0000" style="font-family:'Liberation Sans','Noto Sans CJK SC',sans-serif;">多空转折点</text>
<text transform="translate(962.3 325.3) scale(1.077 1)" font-size="37.4" fill="#ff0000" stroke="#fff" stroke-width="0.45">5550</text>
<g shape-rendering="crispEdges">
<rect x="2" y="541" width="1" height="22" fill="#c0c0c0"/>
<rect x="10" y="541" width="1" height="22" fill="#c0c0c0"/>
<rect x="18" y="543" width="1" height="20" fill="#c0c0c0"/>
<rect x="26" y="544" width="1" height="19" fill="#c0c0c0"/>
<rect x="34" y="543" width="1" height="20" fill="#c0c0c0"/>
<rect x="42" y="543" width="1" height="20" fill="#c0c0c0"/>
<rect x="50" y="543" width="1" height="20" fill="#c0c0c0"/>
<rect x="58" y="541" width="1" height="22" fill="#c0c0c0"/>
<rect x="66" y="537" width="1" height="26" fill="#c0c0c0"/>
<rect x="74" y="536" width="1" height="27" fill="#c0c0c0"/>
<rect x="82" y="536" width="1" height="27" fill="#c0c0c0"/>
<rect x="90" y="537" width="1" height="26" fill="#c0c0c0"/>
<rect x="98" y="541" width="1" height="22" fill="#c0c0c0"/>
<rect x="106" y="545" width="1" height="18" fill="#c0c0c0"/>
<rect x="114" y="548" width="1" height="15" fill="#c0c0c0"/>
<rect x="122" y="550" width="1" height="13" fill="#c0c0c0"/>
<rect x="130" y="547" width="1" height="16" fill="#c0c0c0"/>
<rect x="138" y="543" width="1" height="20" fill="#c0c0c0"/>
<rect x="146" y="543" width="1" height="20" fill="#c0c0c0"/>
<rect x="154" y="539" width="1" height="24" fill="#c0c0c0"/>
<rect x="162" y="535" width="1" height="28" fill="#c0c0c0"/>
<rect x="170" y="532" width="1" height="31" fill="#c0c0c0"/>
<rect x="178" y="530" width="1" height="33" fill="#c0c0c0"/>
<rect x="186" y="530" width="1" height="33" fill="#c0c0c0"/>
<rect x="194" y="530" width="1" height="33" fill="#c0c0c0"/>
<rect x="202" y="530" width="1" height="33" fill="#c0c0c0"/>
<rect x="210" y="530" width="1" height="33" fill="#c0c0c0"/>
<rect x="218" y="533" width="1" height="30" fill="#c0c0c0"/>
<rect x="226" y="535" width="1" height="28" fill="#c0c0c0"/>
<rect x="234" y="538" width="1" height="25" fill="#c0c0c0"/>
<rect x="242" y="541" width="1" height="22" fill="#c0c0c0"/>
<rect x="250" y="544" width="1" height="19" fill="#c0c0c0"/>
<rect x="258" y="550" width="1" height="13" fill="#c0c0c0"/>
<rect x="266" y="553" width="1" height="10" fill="#c0c0c0"/>
<rect x="274" y="558" width="1" height="5" fill="#c0c0c0"/>
<rect x="282" y="562" width="1" height="1" fill="#c0c0c0"/>
<rect x="290" y="562" width="1" height="9" fill="#c0c0c0"/>
<rect x="298" y="562" width="1" height="10" fill="#c0c0c0"/>
<rect x="306" y="562" width="1" height="12" fill="#c0c0c0"/>
<rect x="314" y="562" width="1" height="12" fill="#c0c0c0"/>
<rect x="322" y="562" width="1" height="12" fill="#c0c0c0"/>
<rect x="330" y="562" width="1" height="11" fill="#c0c0c0"/>
<rect x="338" y="562" width="1" height="9" fill="#c0c0c0"/>
<rect x="346" y="562" width="1" height="7" fill="#c0c0c0"/>
<rect x="354" y="562" width="1" height="1" fill="#c0c0c0"/>
<rect x="362" y="561" width="1" height="2" fill="#c0c0c0"/>
<rect x="370" y="560" width="1" height="3" fill="#c0c0c0"/>
<rect x="378" y="557" width="1" height="6" fill="#c0c0c0"/>
<rect x="386" y="554" width="1" height="9" fill="#c0c0c0"/>
<rect x="394" y="552" width="1" height="11" fill="#c0c0c0"/>
<rect x="402" y="555" width="1" height="8" fill="#c0c0c0"/>
<rect x="410" y="554" width="1" height="9" fill="#c0c0c0"/>
<rect x="418" y="554" width="1" height="9" fill="#c0c0c0"/>
<rect x="426" y="555" width="1" height="8" fill="#c0c0c0"/>
<rect x="434" y="554" width="1" height="9" fill="#c0c0c0"/>
<rect x="442" y="553" width="1" height="10" fill="#c0c0c0"/>
<rect x="450" y="552" width="1" height="11" fill="#c0c0c0"/>
<rect x="458" y="549" width="1" height="14" fill="#c0c0c0"/>
<rect x="466" y="547" width="1" height="16" fill="#c0c0c0"/>
<rect x="474" y="547" width="1" height="16" fill="#c0c0c0"/>
<rect x="482" y="547" width="1" height="16" fill="#c0c0c0"/>
<rect x="490" y="544" width="1" height="19" fill="#c0c0c0"/>
<rect x="498" y="541" width="1" height="22" fill="#c0c0c0"/>
<rect x="506" y="536" width="1" height="27" fill="#c0c0c0"/>
<rect x="514" y="529" width="1" height="34" fill="#c0c0c0"/>
<rect x="522" y="520" width="1" height="43" fill="#c0c0c0"/>
<rect x="530" y="515" width="1" height="48" fill="#c0c0c0"/>
<rect x="538" y="510" width="1" height="53" fill="#c0c0c0"/>
<rect x="546" y="502" width="1" height="61" fill="#c0c0c0"/>
<rect x="554" y="497" width="1" height="66" fill="#c0c0c0"/>
<rect x="562" y="491" width="1" height="72" fill="#c0c0c0"/>
<rect x="570" y="483" width="1" height="80" fill="#c0c0c0"/>
<rect x="578" y="474" width="1" height="89" fill="#c0c0c0"/>
<rect x="586" y="472" width="1" height="91" fill="#c0c0c0"/>
<rect x="594" y="470" width="1" height="93" fill="#c0c0c0"/>
<rect x="602" y="469" width="1" height="94" fill="#c0c0c0"/>
<rect x="610" y="473" width="1" height="90" fill="#c0c0c0"/>
<rect x="618" y="474" width="1" height="89" fill="#c0c0c0"/>
<rect x="626" y="469" width="1" height="94" fill="#c0c0c0"/>
<rect x="634" y="467" width="1" height="96" fill="#c0c0c0"/>
<rect x="642" y="467" width="1" height="96" fill="#c0c0c0"/>
<rect x="650" y="472" width="1" height="91" fill="#c0c0c0"/>
<rect x="658" y="479" width="1" height="84" fill="#c0c0c0"/>
<rect x="666" y="489" width="1" height="74" fill="#c0c0c0"/>
<rect x="674" y="496" width="1" height="67" fill="#c0c0c0"/>
<rect x="682" y="500" width="1" height="63" fill="#c0c0c0"/>
<rect x="690" y="502" width="1" height="61" fill="#c0c0c0"/>
<rect x="698" y="506" width="1" height="57" fill="#c0c0c0"/>
<rect x="706" y="513" width="1" height="50" fill="#c0c0c0"/>
<rect x="714" y="518" width="1" height="45" fill="#c0c0c0"/>
<rect x="722" y="522" width="1" height="41" fill="#c0c0c0"/>
<rect x="730" y="519" width="1" height="44" fill="#c0c0c0"/>
<rect x="738" y="518" width="1" height="45" fill="#c0c0c0"/>
<rect x="746" y="520" width="1" height="43" fill="#c0c0c0"/>
<rect x="754" y="521" width="1" height="42" fill="#c0c0c0"/>
<rect x="762" y="518" width="1" height="45" fill="#c0c0c0"/>
<rect x="770" y="519" width="1" height="44" fill="#c0c0c0"/>
<rect x="778" y="522" width="1" height="41" fill="#c0c0c0"/>
<rect x="786" y="526" width="1" height="37" fill="#c0c0c0"/>
<rect x="794" y="531" width="1" height="32" fill="#c0c0c0"/>
<rect x="802" y="535" width="1" height="28" fill="#c0c0c0"/>
<rect x="810" y="545" width="1" height="18" fill="#c0c0c0"/>
<rect x="818" y="554" width="1" height="9" fill="#c0c0c0"/>
<rect x="826" y="559" width="1" height="4" fill="#c0c0c0"/>
<rect x="834" y="562" width="1" height="5" fill="#c0c0c0"/>
<rect x="842" y="562" width="1" height="9" fill="#c0c0c0"/>
<rect x="850" y="562" width="1" height="10" fill="#c0c0c0"/>
<rect x="858" y="562" width="1" height="7" fill="#c0c0c0"/>
<rect x="866" y="562" width="1" height="5" fill="#c0c0c0"/>
<rect x="874" y="562" width="1" height="1" fill="#c0c0c0"/>
<rect x="882" y="562" width="1" height="1" fill="#c0c0c0"/>
<rect x="890" y="562" width="1" height="1" fill="#c0c0c0"/>
<rect x="898" y="562" width="1" height="1" fill="#c0c0c0"/>
<rect x="906" y="558" width="1" height="5" fill="#c0c0c0"/>
<rect x="914" y="558" width="1" height="5" fill="#c0c0c0"/>
<rect x="922" y="552" width="1" height="11" fill="#c0c0c0"/>
<rect x="930" y="550" width="1" height="13" fill="#c0c0c0"/>
<rect x="938" y="542" width="1" height="21" fill="#c0c0c0"/>
<rect x="946" y="534" width="1" height="29" fill="#c0c0c0"/>
<g stroke="#ff0000" fill="none"><line x1="2.0" y1="530.9" x2="10.0" y2="533.5" stroke-width="0.95" stroke-dasharray="3.15 3.15 2.10 0"/><line x1="10.0" y1="533.5" x2="18.0" y2="535.3" stroke-width="0.98" stroke-dasharray="3.07 3.07 2.05 0"/><line x1="18.0" y1="535.3" x2="26.0" y2="537.4" stroke-width="0.97" stroke-dasharray="3.10 3.10 2.07 0"/><line x1="26.0" y1="537.4" x2="34.0" y2="539.7" stroke-width="0.96" stroke-dasharray="3.12 3.12 2.08 0"/><line x1="34.0" y1="539.7" x2="42.0" y2="541.0" stroke-width="0.99" stroke-dasharray="3.04 3.04 2.03 0"/><line x1="42.0" y1="541.0" x2="50.0" y2="541.8" stroke-width="1.00" stroke-dasharray="3.01 3.01 2.01 0"/><line x1="50.0" y1="541.8" x2="58.0" y2="541.8" stroke-width="1.00" stroke-dasharray="3.00 3.00 2.00 0"/><line x1="58.0" y1="541.8" x2="66.0" y2="541.8" stroke-width="1.00" stroke-dasharray="3.00 3.00 2.00 0"/><line x1="66.0" y1="541.8" x2="74.0" y2="541.0" stroke-width="1.00" stroke-dasharray="3.01 3.01 2.01 0"/><line x1="74.0" y1="541.0" x2="82.0" y2="540.5" stroke-width="1.00" stroke-dasharray="3.01 3.01 2.00 0"/><line x1="82.0" y1="540.5" x2="90.0" y2="540.0" stroke-width="1.00" stroke-dasharray="3.01 3.01 2.00 0"/><line x1="90.0" y1="540.0" x2="98.0" y2="540.0" stroke-width="1.00" stroke-dasharray="3.00 3.00 2.00 0"/><line x1="98.0" y1="540.0" x2="122.0" y2="540.0" stroke-width="1.00" stroke-dasharray="3.00 3.00 2.00 0"/><line x1="122.0" y1="540.0" x2="130.0" y2="541.8" stroke-width="0.98" stroke-dasharray="3.07 3.07 2.05 0"/><line x1="130.0" y1="541.8" x2="138.0" y2="542.3" stroke-width="1.00" stroke-dasharray="3.01 3.01 2.00 0"/><line x1="138.0" y1="542.3" x2="146.0" y2="543.0" stroke-width="1.00" stroke-dasharray="3.01 3.01 2.01 0"/><line x1="146.0" y1="543.0" x2="154.0" y2="543.0" stroke-width="1.00" stroke-dasharray="3.00 3.00 2.00 0"/><line x1="154.0" y1="543.0" x2="162.0" y2="542.5" stroke-width="1.00" stroke-dasharray="3.01 3.01 2.00 0"/><line x1="162.0" y1="542.5" x2="170.0" y2="541.8" stroke-width="1.00" stroke-dasharray="3.01 3.01 2.01 0"/><line x1="170.0" y1="541.8" x2="178.0" y2="540.0" stroke-width="0.98" stroke-dasharray="3.07 3.07 2.05 0"/><line x1="178.0" y1="540.0" x2="186.0" y2="537.9" stroke-width="0.97" stroke-dasharray="3.10 3.10 2.07 0"/><line x1="186.0" y1="537.9" x2="194.0" y2="536.1" stroke-width="0.98" stroke-dasharray="3.07 3.07 2.05 0"/><line x1="194.0" y1="536.1" x2="202.0" y2="534.0" stroke-width="0.97" stroke-dasharray="3.10 3.10 2.07 0"/><line x1="202.0" y1="534.0" x2="210.0" y2="532.7" stroke-width="0.99" stroke-dasharray="3.04 3.04 2.03 0"/><line x1="210.0" y1="532.7" x2="218.0" y2="532.0" stroke-width="1.00" stroke-dasharray="3.01 3.01 2.01 0"/><line x1="218.0" y1="532.0" x2="226.0" y2="530.9" stroke-width="0.99" stroke-dasharray="3.03 3.03 2.02 0"/><line x1="226.0" y1="530.9" x2="234.0" y2="532.0" stroke-width="0.99" stroke-dasharray="3.03 3.03 2.02 0"/><line x1="234.0" y1="532.0" x2="242.0" y2="532.7" stroke-width="1.00" stroke-dasharray="3.01 3.01 2.01 0"/><line x1="242.0" y1="532.7" x2="250.0" y2="533.5" stroke-width="1.00" stroke-dasharray="3.01 3.01 2.01 0"/><line x1="250.0" y1="533.5" x2="258.0" y2="536.6" stroke-width="0.93" stroke-dasharray="3.22 3.22 2.14 0"/><line x1="258.0" y1="536.6" x2="266.0" y2="538.7" stroke-width="0.97" stroke-dasharray="3.10 3.10 2.07 0"/><line x1="266.0" y1="538.7" x2="274.0" y2="541.8" stroke-width="0.93" stroke-dasharray="3.22 3.22 2.14 0"/><line x1="274.0" y1="541.8" x2="282.0" y2="545.6" stroke-width="0.90" stroke-dasharray="3.32 3.32 2.21 0"/><line x1="282.0" y1="545.6" x2="290.0" y2="550.0" stroke-width="0.88" stroke-dasharray="3.42 3.42 2.28 0"/><line x1="290.0" y1="550.0" x2="298.0" y2="554.1" stroke-width="0.89" stroke-dasharray="3.37 3.37 2.25 0"/><line x1="298.0" y1="554.1" x2="306.0" y2="558.0" stroke-width="0.90" stroke-dasharray="3.34 3.34 2.22 0"/><line x1="306.0" y1="558.0" x2="314.0" y2="561.8" stroke-width="0.90" stroke-dasharray="3.32 3.32 2.21 0"/><line x1="314.0" y1="561.8" x2="322.0" y2="565.7" stroke-width="0.90" stroke-dasharray="3.34 3.34 2.23 0"/><line x1="322.0" y1="565.7" x2="330.0" y2="568.8" stroke-width="0.93" stroke-dasharray="3.22 3.22 2.14 0"/><line x1="330.0" y1="568.8" x2="338.0" y2="570.8" stroke-width="0.97" stroke-dasharray="3.09 3.09 2.06 0"/><line x1="338.0" y1="570.8" x2="346.0" y2="571.9" stroke-width="0.99" stroke-dasharray="3.03 3.03 2.02 0"/><line x1="346.0" y1="571.9" x2="354.0" y2="571.9" stroke-width="1.00" stroke-dasharray="3.00 3.00 2.00 0"/><line x1="354.0" y1="571.9" x2="362.0" y2="570.8" stroke-width="0.99" stroke-dasharray="3.03 3.03 2.02 0"/><line x1="362.0" y1="570.8" x2="370.0" y2="568.8" stroke-width="0.97" stroke-dasharray="3.09 3.09 2.06 0"/><line x1="370.0" y1="568.8" x2="378.0" y2="568.0" stroke-width="1.00" stroke-dasharray="3.01 3.01 2.01 0"/><line x1="378.0" y1="568.0" x2="386.0" y2="564.9" stroke-width="0.93" stroke-dasharray="3.22 3.22 2.14 0"/><line x1="386.0" y1="564.9" x2="394.0" y2="562.3" stroke-width="0.95" stroke-dasharray="3.15 3.15 2.10 0"/><line x1="394.0" y1="562.3" x2="402.0" y2="560.5" stroke-width="0.98" stroke-dasharray="3.07 3.07 2.05 0"/><line x1="402.0" y1="560.5" x2="410.0" y2="559.0" stroke-width="0.98" stroke-dasharray="3.05 3.05 2.03 0"/><line x1="410.0" y1="559.0" x2="418.0" y2="557.2" stroke-width="0.98" stroke-dasharray="3.07 3.07 2.05 0"/><line x1="418.0" y1="557.2" x2="426.0" y2="556.4" stroke-width="1.00" stroke-dasharray="3.01 3.01 2.01 0"/><line x1="426.0" y1="556.4" x2="434.0" y2="555.1" stroke-width="0.99" stroke-dasharray="3.04 3.04 2.03 0"/><line x1="434.0" y1="555.1" x2="442.0" y2="554.1" stroke-width="0.99" stroke-dasharray="3.02 3.02 2.02 0"/><line x1="442.0" y1="554.1" x2="450.0" y2="553.9" stroke-width="1.00" stroke-dasharray="3.00 3.00 2.00 0"/><line x1="450.0" y1="553.9" x2="458.0" y2="552.8" stroke-width="0.99" stroke-dasharray="3.03 3.03 2.02 0"/><line x1="458.0" y1="552.8" x2="466.0" y2="552.8" stroke-width="1.00" stroke-dasharray="3.00 3.00 2.00 0"/><line x1="466.0" y1="552.8" x2="474.0" y2="552.0" stroke-width="1.00" stroke-dasharray="3.01 3.01 2.01 0"/><line x1="474.0" y1="552.0" x2="482.0" y2="551.3" stroke-width="1.00" stroke-dasharray="3.01 3.01 2.01 0"/><line x1="482.0" y1="551.3" x2="490.0" y2="550.0" stroke-width="0.99" stroke-dasharray="3.04 3.04 2.03 0"/><line x1="490.0" y1="550.0" x2="498.0" y2="547.7" stroke-width="0.96" stroke-dasharray="3.12 3.12 2.08 0"/><line x1="498.0" y1="547.7" x2="506.0" y2="546.1" stroke-width="0.98" stroke-dasharray="3.06 3.06 2.04 0"/><line x1="506.0" y1="546.1" x2="514.0" y2="543.8" stroke-width="0.96" stroke-dasharray="3.12 3.12 2.08 0"/><line x1="514.0" y1="543.8" x2="522.0" y2="539.7" stroke-width="0.89" stroke-dasharray="3.37 3.37 2.25 0"/><line x1="522.0" y1="539.7" x2="530.0" y2="535.3" stroke-width="0.88" stroke-dasharray="3.42 3.42 2.28 0"/><line x1="530.0" y1="535.3" x2="538.0" y2="531.5" stroke-width="0.90" stroke-dasharray="3.32 3.32 2.21 0"/><line x1="538.0" y1="531.5" x2="546.0" y2="527.6" stroke-width="0.90" stroke-dasharray="3.34 3.34 2.22 0"/><line x1="546.0" y1="527.6" x2="554.0" y2="521.2" stroke-width="0.78" stroke-dasharray="3.84 3.84 2.56 0"/><line x1="554.0" y1="521.2" x2="562.0" y2="516.8" stroke-width="0.88" stroke-dasharray="3.42 3.42 2.28 0"/><line x1="562.0" y1="516.8" x2="570.0" y2="509.6" stroke-width="0.74" stroke-dasharray="4.04 4.04 2.69 0"/><line x1="570.0" y1="509.6" x2="578.0" y2="502.6" stroke-width="0.75" stroke-dasharray="3.99 3.99 2.66 0"/><line x1="578.0" y1="502.6" x2="586.0" y2="496.2" stroke-width="0.78" stroke-dasharray="3.84 3.84 2.56 0"/><line x1="586.0" y1="496.2" x2="594.0" y2="490.3" stroke-width="0.80" stroke-dasharray="3.73 3.73 2.49 0"/><line x1="594.0" y1="490.3" x2="602.0" y2="485.1" stroke-width="0.84" stroke-dasharray="3.58 3.58 2.39 0"/><line x1="602.0" y1="485.1" x2="610.0" y2="481.5" stroke-width="0.91" stroke-dasharray="3.29 3.29 2.19 0"/><line x1="610.0" y1="481.5" x2="618.0" y2="478.1" stroke-width="0.92" stroke-dasharray="3.26 3.26 2.17 0"/><line x1="618.0" y1="478.1" x2="626.0" y2="474.9" stroke-width="0.93" stroke-dasharray="3.23 3.23 2.15 0"/><line x1="626.0" y1="474.9" x2="634.0" y2="471.4" stroke-width="0.92" stroke-dasharray="3.27 3.27 2.18 0"/><line x1="634.0" y1="471.4" x2="642.0" y2="470.5" stroke-width="0.99" stroke-dasharray="3.02 3.02 2.01 0"/><line x1="642.0" y1="470.5" x2="650.0" y2="469.4" stroke-width="0.99" stroke-dasharray="3.03 3.03 2.02 0"/><line x1="650.0" y1="469.4" x2="658.0" y2="470.5" stroke-width="0.99" stroke-dasharray="3.03 3.03 2.02 0"/><line x1="658.0" y1="470.5" x2="666.0" y2="472.9" stroke-width="0.96" stroke-dasharray="3.13 3.13 2.09 0"/><line x1="666.0" y1="472.9" x2="674.0" y2="475.8" stroke-width="0.94" stroke-dasharray="3.19 3.19 2.13 0"/><line x1="674.0" y1="475.8" x2="682.0" y2="478.7" stroke-width="0.94" stroke-dasharray="3.19 3.19 2.13 0"/><line x1="682.0" y1="478.7" x2="690.0" y2="482.1" stroke-width="0.92" stroke-dasharray="3.26 3.26 2.17 0"/><line x1="690.0" y1="482.1" x2="698.0" y2="485.3" stroke-width="0.93" stroke-dasharray="3.23 3.23 2.15 0"/><line x1="698.0" y1="485.3" x2="706.0" y2="491.7" stroke-width="0.78" stroke-dasharray="3.84 3.84 2.56 0"/><line x1="706.0" y1="491.7" x2="714.0" y2="497.5" stroke-width="0.81" stroke-dasharray="3.71 3.71 2.47 0"/><line x1="714.0" y1="497.5" x2="722.0" y2="502.7" stroke-width="0.84" stroke-dasharray="3.58 3.58 2.39 0"/><line x1="722.0" y1="502.7" x2="730.0" y2="507.0" stroke-width="0.88" stroke-dasharray="3.41 3.41 2.27 0"/><line x1="730.0" y1="507.0" x2="738.0" y2="510.5" stroke-width="0.92" stroke-dasharray="3.27 3.27 2.18 0"/><line x1="738.0" y1="510.5" x2="746.0" y2="513.4" stroke-width="0.94" stroke-dasharray="3.19 3.19 2.13 0"/><line x1="746.0" y1="513.4" x2="754.0" y2="514.9" stroke-width="0.98" stroke-dasharray="3.05 3.05 2.03 0"/><line x1="754.0" y1="514.9" x2="762.0" y2="516.9" stroke-width="0.97" stroke-dasharray="3.09 3.09 2.06 0"/><line x1="762.0" y1="516.9" x2="770.0" y2="518.6" stroke-width="0.98" stroke-dasharray="3.07 3.07 2.04 0"/><line x1="770.0" y1="518.6" x2="778.0" y2="519.2" stroke-width="1.00" stroke-dasharray="3.01 3.01 2.01 0"/><line x1="778.0" y1="519.2" x2="786.0" y2="520.1" stroke-width="0.99" stroke-dasharray="3.02 3.02 2.01 0"/><line x1="786.0" y1="520.1" x2="794.0" y2="521.2" stroke-width="0.99" stroke-dasharray="3.03 3.03 2.02 0"/><line x1="794.0" y1="521.2" x2="802.0" y2="523.0" stroke-width="0.98" stroke-dasharray="3.07 3.07 2.05 0"/><line x1="802.0" y1="523.0" x2="810.0" y2="525.9" stroke-width="0.94" stroke-dasharray="3.19 3.19 2.13 0"/><line x1="810.0" y1="525.9" x2="818.0" y2="529.3" stroke-width="0.92" stroke-dasharray="3.26 3.26 2.17 0"/><line x1="818.0" y1="529.3" x2="826.0" y2="533.7" stroke-width="0.88" stroke-dasharray="3.42 3.42 2.28 0"/><line x1="826.0" y1="533.7" x2="834.0" y2="539.5" stroke-width="0.81" stroke-dasharray="3.71 3.71 2.47 0"/><line x1="834.0" y1="539.5" x2="842.0" y2="546.1" stroke-width="0.77" stroke-dasharray="3.89 3.89 2.59 0"/><line x1="842.0" y1="546.1" x2="850.0" y2="551.1" stroke-width="0.85" stroke-dasharray="3.54 3.54 2.36 0"/><line x1="850.0" y1="551.1" x2="858.0" y2="554.8" stroke-width="0.91" stroke-dasharray="3.31 3.31 2.20 0"/><line x1="858.0" y1="554.8" x2="866.0" y2="559.2" stroke-width="0.88" stroke-dasharray="3.42 3.42 2.28 0"/><line x1="866.0" y1="559.2" x2="874.0" y2="562.7" stroke-width="0.92" stroke-dasharray="3.27 3.27 2.18 0"/><line x1="874.0" y1="562.7" x2="882.0" y2="564.7" stroke-width="0.97" stroke-dasharray="3.09 3.09 2.06 0"/><line x1="882.0" y1="564.7" x2="890.0" y2="566.1" stroke-width="0.99" stroke-dasharray="3.05 3.05 2.03 0"/><line x1="890.0" y1="566.1" x2="898.0" y2="566.1" stroke-width="1.00" stroke-dasharray="3.00 3.00 2.00 0"/><line x1="898.0" y1="566.1" x2="906.0" y2="565.0" stroke-width="0.99" stroke-dasharray="3.03 3.03 2.02 0"/><line x1="906.0" y1="565.0" x2="914.0" y2="564.1" stroke-width="0.99" stroke-dasharray="3.02 3.02 2.01 0"/><line x1="914.0" y1="564.1" x2="922.0" y2="562.1" stroke-width="0.97" stroke-dasharray="3.09 3.09 2.06 0"/><line x1="922.0" y1="562.1" x2="930.0" y2="558.9" stroke-width="0.93" stroke-dasharray="3.23 3.23 2.15 0"/><line x1="930.0" y1="558.9" x2="938.0" y2="556.3" stroke-width="0.95" stroke-dasharray="3.15 3.15 2.10 0"/><line x1="938.0" y1="556.3" x2="946.0" y2="552.5" stroke-width="0.90" stroke-dasharray="3.32 3.32 2.21 0"/></g>
<rect x="1208" y="562" width="1" height="1" fill="#000"/><rect x="1208" y="461" width="1" height="1" fill="#000"/><rect x="1208" y="579" width="1" height="1" fill="#000"/>
</g>
<text x="5.7" y="472" font-size="9.7" fill="#000" stroke="#000" stroke-width="0.25" textLength="118" lengthAdjust="spacingAndGlyphs">MACD(12,26,9) 38.74 12.83</text>
<text x="1211" y="470" font-size="9.7" fill="#000" stroke="#000" stroke-width="0.25" textLength="26.5" lengthAdjust="spacingAndGlyphs">134.11</text>
<text x="1211" y="566" font-size="9.7" fill="#000" stroke="#000" stroke-width="0.25" textLength="17.3" lengthAdjust="spacingAndGlyphs">0.00</text>
<text x="1211" y="577" font-size="9.7" fill="#000" stroke="#000" stroke-width="0.25" textLength="25.3" lengthAdjust="spacingAndGlyphs">-22.95</text>
<g shape-rendering="crispEdges">
<line x1="3" y1="615.5" x2="1207" y2="615.5" stroke="#c0c0c0" stroke-width="1" stroke-dasharray="3 3"/>
<line x1="3" y1="657.5" x2="1207" y2="657.5" stroke="#c0c0c0" stroke-width="1" stroke-dasharray="3 3"/>
<g stroke="#1e90ff" fill="none" stroke-linecap="butt" ><line x1="1.9" y1="630.2" x2="10.1" y2="628.1" stroke-width="0.97"/><line x1="9.9" y1="628.0" x2="18.1" y2="632.4" stroke-width="0.89"/><line x1="17.9" y1="632.4" x2="26.1" y2="629.3" stroke-width="0.94"/><line x1="25.9" y1="629.5" x2="34.1" y2="626.2" stroke-width="0.93"/><line x1="33.9" y1="626.3" x2="42.1" y2="628.1" stroke-width="0.98"/><line x1="41.9" y1="628.2" x2="50.1" y2="624.9" stroke-width="0.93"/><line x1="49.9" y1="625.1" x2="58.1" y2="619.8" stroke-width="0.84"/><line x1="57.9" y1="619.9" x2="66.1" y2="618.1" stroke-width="0.98"/><line x1="65.9" y1="618.0" x2="74.1" y2="621.3" stroke-width="0.93"/><line x1="73.9" y1="621.2" x2="82.1" y2="623.3" stroke-width="0.97"/><line x1="81.9" y1="623.2" x2="90.1" y2="627.2" stroke-width="0.90"/><line x1="89.9" y1="627.0" x2="98.1" y2="636.2" stroke-width="0.75"/><line x1="97.9" y1="636.1" x2="106.1" y2="638.4" stroke-width="0.96"/><line x1="105.9" y1="638.5" x2="114.1" y2="635.3" stroke-width="0.94"/><line x1="113.9" y1="635.4" x2="122.1" y2="634.1" stroke-width="0.99"/><line x1="121.9" y1="634.2" x2="130.1" y2="622.9" stroke-width="0.81"/><line x1="129.9" y1="623.1" x2="138.1" y2="618.0" stroke-width="0.85"/><line x1="137.9" y1="618.0" x2="146.1" y2="631.6" stroke-width="0.86"/><line x1="145.9" y1="631.6" x2="154.1" y2="623.2" stroke-width="0.72"/><line x1="153.9" y1="623.4" x2="162.1" y2="620.3" stroke-width="0.94"/><line x1="161.8" y1="620.4" x2="170.2" y2="620.4" stroke-width="1.00"/><line x1="169.9" y1="620.4" x2="178.1" y2="622.5" stroke-width="0.97"/><line x1="177.8" y1="622.5" x2="186.2" y2="622.5" stroke-width="1.00"/><line x1="185.8" y1="622.5" x2="194.2" y2="622.5" stroke-width="1.00"/><line x1="193.9" y1="622.4" x2="202.1" y2="627.7" stroke-width="0.84"/><line x1="201.9" y1="627.7" x2="210.1" y2="623.2" stroke-width="0.88"/><line x1="209.9" y1="623.2" x2="218.1" y2="632.4" stroke-width="0.75"/><line x1="217.9" y1="632.3" x2="226.1" y2="630.2" stroke-width="0.97"/><line x1="225.9" y1="630.1" x2="234.1" y2="633.4" stroke-width="0.93"/><line x1="233.8" y1="633.3" x2="242.2" y2="633.3" stroke-width="1.00"/><line x1="241.8" y1="633.3" x2="250.2" y2="633.3" stroke-width="1.00"/><line x1="249.9" y1="633.2" x2="258.1" y2="642.7" stroke-width="0.76"/><line x1="257.9" y1="642.6" x2="266.1" y2="641.3" stroke-width="0.99"/><line x1="265.9" y1="641.3" x2="274.1" y2="643.1" stroke-width="0.98"/><line x1="273.9" y1="643.0" x2="282.1" y2="652.7" stroke-width="0.76"/><line x1="281.9" y1="652.6" x2="290.1" y2="650.0" stroke-width="0.95"/><line x1="289.9" y1="650.1" x2="298.1" y2="644.3" stroke-width="0.82"/><line x1="297.9" y1="644.5" x2="306.1" y2="641.2" stroke-width="0.93"/><line x1="305.9" y1="641.2" x2="314.1" y2="644.5" stroke-width="0.93"/><line x1="313.9" y1="644.5" x2="322.1" y2="639.6" stroke-width="0.86"/><line x1="321.9" y1="639.7" x2="330.1" y2="639.7" stroke-width="1.00"/><line x1="329.9" y1="639.7" x2="338.1" y2="639.7" stroke-width="1.00"/><line x1="337.9" y1="639.8" x2="346.1" y2="629.3" stroke-width="0.79"/><line x1="345.9" y1="629.5" x2="354.1" y2="626.2" stroke-width="0.93"/><line x1="353.9" y1="626.2" x2="362.1" y2="629.5" stroke-width="0.93"/><line x1="361.9" y1="629.3" x2="370.1" y2="632.4" stroke-width="0.94"/><line x1="369.9" y1="632.4" x2="378.1" y2="627.5" stroke-width="0.86"/><line x1="377.9" y1="627.6" x2="386.1" y2="625.6" stroke-width="0.97"/><line x1="385.9" y1="625.6" x2="394.1" y2="625.6" stroke-width="1.00"/><line x1="393.9" y1="625.5" x2="402.1" y2="639.8" stroke-width="0.87"/><line x1="401.9" y1="639.8" x2="410.1" y2="632.2" stroke-width="0.73"/><line x1="409.9" y1="632.3" x2="418.1" y2="634.6" stroke-width="0.96"/><line x1="417.9" y1="634.6" x2="426.1" y2="633.3" stroke-width="0.99"/><line x1="425.9" y1="633.3" x2="434.1" y2="634.6" stroke-width="0.99"/><line x1="433.9" y1="634.7" x2="442.1" y2="629.3" stroke-width="0.84"/><line x1="441.9" y1="629.4" x2="450.1" y2="628.1" stroke-width="0.99"/><line x1="449.9" y1="628.2" x2="458.1" y2="623.2" stroke-width="0.86"/><line x1="457.9" y1="623.2" x2="466.1" y2="626.4" stroke-width="0.94"/><line x1="465.9" y1="626.3" x2="474.1" y2="628.1" stroke-width="0.98"/><line x1="473.9" y1="628.1" x2="482.1" y2="628.1" stroke-width="1.00"/><line x1="481.9" y1="628.2" x2="490.1" y2="620.3" stroke-width="0.72"/><line x1="489.9" y1="620.4" x2="498.1" y2="620.4" stroke-width="1.00"/><line x1="497.9" y1="620.5" x2="506.1" y2="614.7" stroke-width="0.82"/><line x1="505.9" y1="614.9" x2="514.1" y2="609.0" stroke-width="0.81"/><line x1="513.9" y1="609.2" x2="522.1" y2="605.1" stroke-width="0.90"/><line x1="521.9" y1="605.1" x2="530.1" y2="611.5" stroke-width="0.79"/><line x1="529.9" y1="611.5" x2="538.1" y2="608.2" stroke-width="0.93"/><line x1="537.9" y1="608.3" x2="546.1" y2="605.7" stroke-width="0.95"/><line x1="545.9" y1="605.7" x2="554.1" y2="605.2" stroke-width="1.00"/><line x1="553.9" y1="605.2" x2="562.1" y2="602.4" stroke-width="0.94"/><line x1="561.9" y1="602.4" x2="570.1" y2="600.1" stroke-width="0.96"/><line x1="569.9" y1="600.1" x2="578.1" y2="598.0" stroke-width="0.97"/><line x1="577.9" y1="597.9" x2="586.1" y2="611.5" stroke-width="0.86"/><line x1="585.9" y1="611.5" x2="594.1" y2="608.2" stroke-width="0.93"/><line x1="593.9" y1="608.2" x2="602.1" y2="611.3" stroke-width="0.94"/><line x1="601.9" y1="611.1" x2="610.1" y2="618.5" stroke-width="0.74"/><line x1="609.9" y1="618.5" x2="618.1" y2="614.9" stroke-width="0.92"/><line x1="617.9" y1="615.1" x2="626.1" y2="609.4" stroke-width="0.82"/><line x1="625.9" y1="609.5" x2="634.1" y2="609.0" stroke-width="1.00"/><line x1="633.9" y1="608.9" x2="642.1" y2="612.0" stroke-width="0.94"/><line x1="641.9" y1="611.8" x2="650.1" y2="620.6" stroke-width="0.73"/><line x1="649.9" y1="620.4" x2="658.1" y2="625.6" stroke-width="0.85"/><line x1="657.9" y1="625.4" x2="666.1" y2="631.6" stroke-width="0.80"/><line x1="665.9" y1="631.5" x2="674.1" y2="629.2" stroke-width="0.96"/><line x1="673.9" y1="629.3" x2="682.1" y2="625.4" stroke-width="0.91"/><line x1="681.9" y1="625.5" x2="690.1" y2="624.0" stroke-width="0.98"/><line x1="689.9" y1="624.0" x2="698.1" y2="626.3" stroke-width="0.96"/><line x1="697.9" y1="626.2" x2="706.1" y2="632.2" stroke-width="0.81"/><line x1="705.9" y1="632.1" x2="714.1" y2="631.3" stroke-width="1.00"/><line x1="713.9" y1="631.3" x2="722.1" y2="630.7" stroke-width="1.00"/><line x1="721.9" y1="630.8" x2="730.1" y2="621.0" stroke-width="0.77"/><line x1="729.9" y1="621.0" x2="738.1" y2="624.1" stroke-width="0.94"/><line x1="737.9" y1="623.9" x2="746.1" y2="627.3" stroke-width="0.93"/><line x1="745.9" y1="627.2" x2="754.1" y2="624.9" stroke-width="0.96"/><line x1="753.9" y1="625.0" x2="762.1" y2="621.0" stroke-width="0.90"/><line x1="761.9" y1="621.1" x2="770.1" y2="622.6" stroke-width="0.98"/><line x1="769.9" y1="622.5" x2="778.1" y2="631.4" stroke-width="0.74"/><line x1="777.9" y1="631.3" x2="786.1" y2="633.0" stroke-width="0.98"/><line x1="785.9" y1="633.0" x2="794.1" y2="634.2" stroke-width="0.99"/><line x1="793.9" y1="634.2" x2="802.1" y2="633.6" stroke-width="1.00"/><line x1="801.9" y1="633.5" x2="810.1" y2="645.8" stroke-width="0.83"/><line x1="809.9" y1="645.7" x2="818.1" y2="645.7" stroke-width="1.00"/><line x1="817.9" y1="645.7" x2="826.1" y2="643.1" stroke-width="0.95"/><line x1="825.9" y1="643.0" x2="834.1" y2="648.7" stroke-width="0.82"/><line x1="833.9" y1="648.7" x2="842.1" y2="644.2" stroke-width="0.88"/><line x1="841.9" y1="644.4" x2="850.1" y2="640.1" stroke-width="0.89"/><line x1="849.9" y1="640.3" x2="858.1" y2="634.3" stroke-width="0.81"/><line x1="857.9" y1="634.4" x2="866.1" y2="633.6" stroke-width="1.00"/><line x1="865.9" y1="633.7" x2="874.1" y2="630.0" stroke-width="0.92"/><line x1="873.9" y1="630.0" x2="882.1" y2="633.1" stroke-width="0.94"/><line x1="881.9" y1="632.9" x2="890.1" y2="638.6" stroke-width="0.82"/><line x1="889.9" y1="638.6" x2="898.1" y2="633.5" stroke-width="0.85"/><line x1="897.9" y1="633.7" x2="906.1" y2="628.6" stroke-width="0.85"/><line x1="905.9" y1="628.6" x2="914.1" y2="634.5" stroke-width="0.81"/><line x1="913.9" y1="634.5" x2="922.1" y2="625.7" stroke-width="0.73"/><line x1="921.9" y1="625.7" x2="930.1" y2="629.3" stroke-width="0.92"/><line x1="929.9" y1="629.3" x2="938.1" y2="622.5" stroke-width="0.77"/><line x1="937.9" y1="622.7" x2="946.1" y2="619.0" stroke-width="0.92"/></g>
<rect x="1208" y="584" width="1" height="1" fill="#000"/><rect x="1208" y="688" width="1" height="1" fill="#000"/>
</g>
<text x="5.7" y="595" font-size="9.7" fill="#000" stroke="#000" stroke-width="0.25" textLength="67.7" lengthAdjust="spacingAndGlyphs">RSI(14) 66.1752</text>
<text x="1211" y="593" font-size="9.7" fill="#000" stroke="#000" stroke-width="0.25" textLength="14.2" lengthAdjust="spacingAndGlyphs">100</text>
<text x="1209.500" y="619" font-size="9.7" fill="#000" stroke="#000" stroke-width="0.25" textLength="9.6" lengthAdjust="spacingAndGlyphs">70</text>
<text x="1209.500" y="661" font-size="9.7" fill="#000" stroke="#000" stroke-width="0.25" textLength="9.6" lengthAdjust="spacingAndGlyphs">30</text>
<text x="1210.500" y="686" font-size="9.7" fill="#000" stroke="#000" stroke-width="0.25">0</text>
<g shape-rendering="crispEdges" fill="#000">
<rect x="2" y="690" width="1" height="3"/>
<rect x="66" y="690" width="1" height="3"/>
<rect x="130" y="690" width="1" height="3"/>
<rect x="194" y="690" width="1" height="3"/>
<rect x="258" y="690" width="1" height="3"/>
<rect x="322" y="690" width="1" height="3"/>
<rect x="386" y="690" width="1" height="3"/>
<rect x="450" y="690" width="1" height="3"/>
<rect x="514" y="690" width="1" height="3"/>
<rect x="578" y="690" width="1" height="3"/>
<rect x="642" y="690" width="1" height="3"/>
<rect x="706" y="690" width="1" height="3"/>
<rect x="770" y="690" width="1" height="3"/>
<rect x="834" y="690" width="1" height="3"/>
<rect x="898" y="690" width="1" height="3"/>
</g>
<text x="1.7" y="702" font-size="9.7" fill="#000" stroke="#000" stroke-width="0.25" textLength="52" lengthAdjust="spacingAndGlyphs">17 Nov 2020</text>
<text x="65.7" y="702" font-size="9.7" fill="#000" stroke="#000" stroke-width="0.25" textLength="56" lengthAdjust="spacingAndGlyphs">23 Nov 05:00</text>
<text x="129.7" y="702" font-size="9.7" fill="#000" stroke="#000" stroke-width="0.25" textLength="56" lengthAdjust="spacingAndGlyphs">27 Nov 05:00</text>
<text x="193.7" y="702" font-size="9.7" fill="#000" stroke="#000" stroke-width="0.25" textLength="48" lengthAdjust="spacingAndGlyphs">3 Dec 05:00</text>
<text x="257.7" y="702" font-size="9.7" fill="#000" stroke="#000" stroke-width="0.25" textLength="48" lengthAdjust="spacingAndGlyphs">9 Dec 05:00</text>
<text x="321.7" y="702" font-size="9.7" fill="#000" stroke="#000" stroke-width="0.25" textLength="54.5" lengthAdjust="spacingAndGlyphs">15 Dec 05:00</text>
<text x="385.7" y="702" font-size="9.7" fill="#000" stroke="#000" stroke-width="0.25" textLength="54.5" lengthAdjust="spacingAndGlyphs">21 Dec 05:00</text>
<text x="449.7" y="702" font-size="9.7" fill="#000" stroke="#000" stroke-width="0.25" textLength="54.5" lengthAdjust="spacingAndGlyphs">25 Dec 05:00</text>
<text x="513.7" y="702" font-size="9.7" fill="#000" stroke="#000" stroke-width="0.25" textLength="54.5" lengthAdjust="spacingAndGlyphs">31 Dec 05:00</text>
<text x="577.7" y="702" font-size="9.7" fill="#000" stroke="#000" stroke-width="0.25" textLength="47.5" lengthAdjust="spacingAndGlyphs">7 Jan 05:00</text>
<text x="641.7" y="702" font-size="9.7" fill="#000" stroke="#000" stroke-width="0.25" textLength="51.5" lengthAdjust="spacingAndGlyphs">13 Jan 05:00</text>
<text x="705.7" y="702" font-size="9.7" fill="#000" stroke="#000" stroke-width="0.25" textLength="51.5" lengthAdjust="spacingAndGlyphs">19 Jan 05:00</text>
<text x="769.7" y="702" font-size="9.7" fill="#000" stroke="#000" stroke-width="0.25" textLength="52" lengthAdjust="spacingAndGlyphs">25 Jan 05:00</text>
<text x="833.7" y="702" font-size="9.7" fill="#000" stroke="#000" stroke-width="0.25" textLength="52" lengthAdjust="spacingAndGlyphs">29 Jan 05:00</text>
<text x="897.7" y="702" font-size="9.7" fill="#000" stroke="#000" stroke-width="0.25" textLength="48.4" lengthAdjust="spacingAndGlyphs">4 Feb 05:00</text>
</svg></body></html>
